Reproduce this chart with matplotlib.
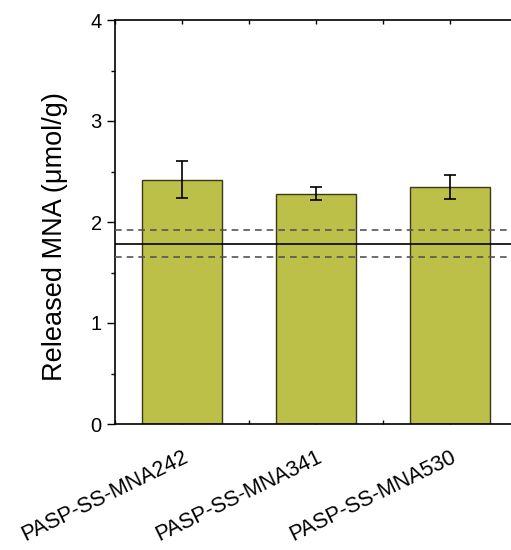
import matplotlib
matplotlib.use("Agg")
import matplotlib.pyplot as plt
import matplotlib.transforms as mtransforms
from matplotlib.ticker import MultipleLocator

plt.rcParams['font.family'] = ['Liberation Sans', 'DejaVu Sans']

categories = ["PASP-SS-MNA242", "PASP-SS-MNA341", "PASP-SS-MNA530"]
values = [2.42, 2.28, 2.35]
errors = [0.18, 0.065, 0.12]
ref_mean = 1.78
ref_upper = 1.92
ref_lower = 1.65

fig = plt.figure(figsize=(5.11, 5.5), dpi=100)
ax = fig.add_axes([115/511, (550-424)/550, (517-115)/511, 404/550])

x = [1, 2, 3]
ax.bar(x, values, width=0.6, color='#BCBF48', edgecolor='#3a3a1a', linewidth=1.0, zorder=2)
ax.errorbar(x, values, yerr=errors, fmt='none', ecolor='black', elinewidth=1.2,
            capsize=4, capthick=1.2, zorder=3)
ax.axhline(ref_mean, color='black', linewidth=1.2, zorder=4)
ax.axhline(ref_upper, color='#555555', linewidth=1.2, linestyle=(0, (4, 3)), zorder=4)
ax.axhline(ref_lower, color='#555555', linewidth=1.2, linestyle=(0, (4, 3)), zorder=4)

ax.set_xlim(0.5, 3.5)
ax.set_ylim(0, 4)
ax.set_xticks(x)
ax.set_xticklabels(categories, rotation=26, ha='right', rotation_mode='anchor', fontsize=15.5)
offset = mtransforms.ScaledTranslation(6/72, 0, fig.dpi_scale_trans)
for lab in ax.get_xticklabels():
    lab.set_transform(lab.get_transform() + offset)
ax.xaxis.set_minor_locator(MultipleLocator(0.5))
ax.yaxis.set_major_locator(MultipleLocator(1))
ax.yaxis.set_minor_locator(MultipleLocator(0.5))
ax.tick_params(axis='y', which='major', direction='out', length=6, width=1, labelsize=14.5)
ax.tick_params(axis='y', which='minor', direction='out', length=3, width=1)
ax.tick_params(axis='x', which='major', direction='in', length=3, width=1, top=True, pad=16)
ax.tick_params(axis='x', which='minor', direction='in', length=3, width=1, top=True)
for s in ax.spines.values():
    s.set_linewidth(1.2)
ax.set_ylabel("Released MNA (\u03bcmol/g)", fontsize=19.5)
ax.yaxis.set_label_coords(-0.117, 0.465)

fig.savefig("out.png", dpi=100)
